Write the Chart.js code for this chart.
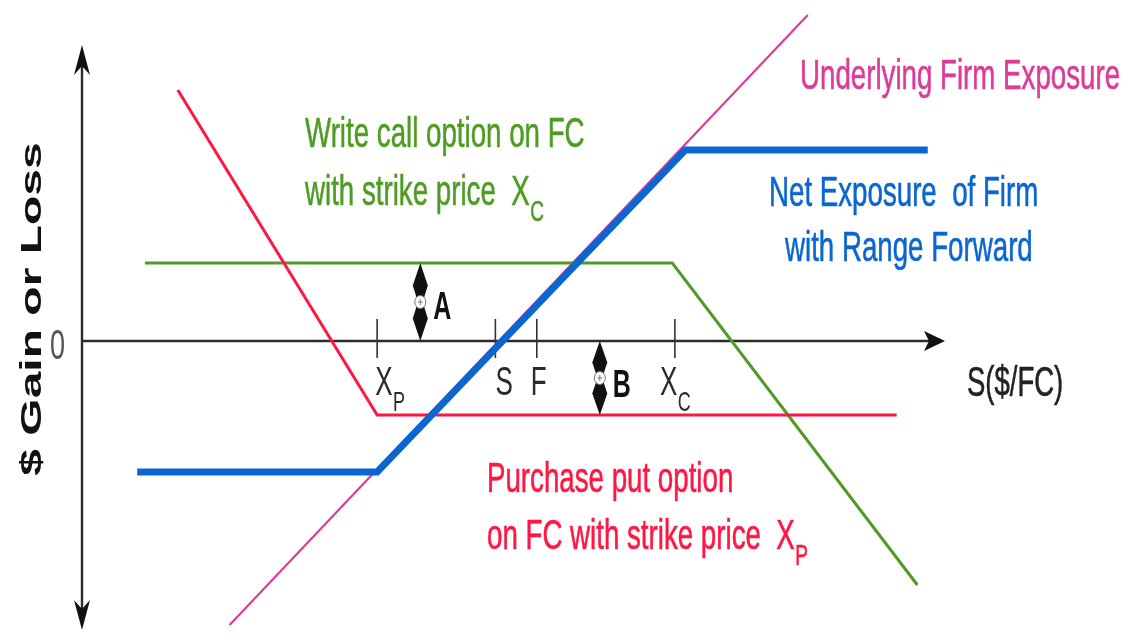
<!DOCTYPE html>
<html>
<head>
<meta charset="utf-8">
<script src="https://cdn.jsdelivr.net/npm/chart.js@4.4.0/dist/chart.umd.min.js"></script>
<style>
  html, body { margin: 0; padding: 0; background: #ffffff; }
  canvas { display: block; }
</style>
</head>
<body>
<canvas id="chart" width="1132" height="644"></canvas>
<script>
// Markers along the S($/FC) axis: put strike, spot, forward, call strike
const markerNames = ['X|P', 'S', 'F', 'X|C'];
const markerValues = [34.2, 47.9, 52.7, 68.7];

// Payoff profiles (S, $ gain or loss)
const underlyingX = [17.1, 84.1];
const underlyingY = [-28.4, 32.6];
const netX = [6.4, 34.2, 69.9, 98.0];
const netY = [-13.1, -13.1, 19.1, 19.1];
const putX = [11.1, 34.2, 94.4];
const putY = [25.1, -7.4, -7.4];
const callX = [7.3, 68.4, 96.8];
const callY = [7.8, 7.8, -24.4];

// Axis extents
const xAxisEnd = 100;
const yAxisTop = 29.6;
const yAxisBottom = -28.9;

// Gaps A (call premium received) and B (put premium paid)
const gapNames = ['A', 'B'];
const gapX = [39.2, 60.0];
const gapFrom = [7.8, 0];
const gapTo = [0, -7.4];

const zip = (xs, ys) => xs.map((v, i) => ({ x: v, y: ys[i] }));

const COLORS = {
  pink: '#dc3c98',
  blue: '#0a66d0',
  red: '#ff1744',
  green: '#4f9c24',
  axis: '#2b2b2b'
};

const STRETCH = 1.55;           // tall, narrow lettering
const FACE = '"Liberation Sans", Arial, sans-serif';
const CAPTION = 27.7;

function stretchedText(ctx, str, x, y, font, color, weightStroke) {
  ctx.save();
  ctx.translate(x, y);
  ctx.scale(1, STRETCH);
  ctx.font = font;
  ctx.fillStyle = color;
  ctx.textAlign = 'left';
  ctx.textBaseline = 'alphabetic';
  ctx.fillText(str, 0, 0);
  if (weightStroke) {
    ctx.strokeStyle = color;
    ctx.lineWidth = weightStroke;
    ctx.strokeText(str, 0, 0);
  }
  const w = ctx.measureText(str).width;
  ctx.restore();
  return w;
}

// text with an optional subscript written as "main|sub"
function labelWithSub(ctx, str, x, y, size, color, weightStroke) {
  const parts = str.split('|');
  const w = stretchedText(ctx, parts[0], x, y, size + 'px ' + FACE, color, weightStroke);
  if (parts[1]) {
    stretchedText(ctx, parts[1], x + w + 0.5, y + 10 * STRETCH,
      Math.round(size * 0.68) + 'px ' + FACE, color, weightStroke);
  }
}

function arrowHead(ctx, tx, ty, dx, dy, len, half, notch) {
  const px = -dy, py = dx;
  ctx.beginPath();
  ctx.moveTo(tx, ty);
  ctx.lineTo(tx - dx * len + px * half, ty - dy * len + py * half);
  ctx.lineTo(tx - dx * (len - notch), ty - dy * (len - notch));
  ctx.lineTo(tx - dx * len - px * half, ty - dy * len - py * half);
  ctx.closePath();
  ctx.fill();
}

function gapMarker(ctx, xp, ya, yb) {
  const top = Math.min(ya, yb), bot = Math.max(ya, yb);
  const mid = (top + bot) / 2;
  const half = mid - top;
  ctx.save();
  ctx.fillStyle = '#111';
  // upper head
  ctx.beginPath();
  ctx.moveTo(xp, top);
  ctx.lineTo(xp + 7.5, top + half * 0.58);
  ctx.lineTo(xp + 3, mid - 2);
  ctx.lineTo(xp - 3, mid - 2);
  ctx.lineTo(xp - 7.5, top + half * 0.58);
  ctx.closePath();
  ctx.fill();
  // lower head
  ctx.beginPath();
  ctx.moveTo(xp, bot);
  ctx.lineTo(xp + 7.5, bot - half * 0.58);
  ctx.lineTo(xp + 3, mid + 2);
  ctx.lineTo(xp - 3, mid + 2);
  ctx.lineTo(xp - 7.5, bot - half * 0.58);
  ctx.closePath();
  ctx.fill();
  // hub
  ctx.beginPath();
  ctx.ellipse(xp, mid, 5.5, 6.5, 0, 0, Math.PI * 2);
  ctx.fillStyle = '#ffffff';
  ctx.fill();
  ctx.strokeStyle = '#777';
  ctx.lineWidth = 1;
  ctx.stroke();
  ctx.beginPath();
  ctx.moveTo(xp - 2.5, mid); ctx.lineTo(xp + 2.5, mid);
  ctx.moveTo(xp, mid - 3); ctx.lineTo(xp, mid + 3);
  ctx.stroke();
  ctx.restore();
}

const axesPlugin = {
  id: 'axesPlugin',
  beforeDatasetsDraw(chart) {
    const { ctx, scales: { x, y } } = chart;
    const x0 = x.getPixelForValue(0);
    const y0 = y.getPixelForValue(0);
    const yT = y.getPixelForValue(yAxisTop);
    const yB = y.getPixelForValue(yAxisBottom);
    const xE = x.getPixelForValue(xAxisEnd);
    ctx.save();
    ctx.strokeStyle = COLORS.axis;
    ctx.fillStyle = '#111';
    ctx.lineWidth = 2.4;
    ctx.beginPath();
    ctx.moveTo(x0, yT + 12);
    ctx.lineTo(x0, yB - 12);
    ctx.moveTo(x0, y0);
    ctx.lineTo(xE - 8, y0);
    ctx.stroke();
    arrowHead(ctx, x0, yT, 0, -1, 30, 8, 9);
    arrowHead(ctx, x0, yB, 0, 1, 30, 8, 9);
    arrowHead(ctx, xE, y0, 1, 0, 21, 10, 5);
    // marker ticks
    ctx.lineWidth = 1.6;
    ctx.strokeStyle = '#333';
    markerValues.forEach(v => {
      const px = x.getPixelForValue(v);
      ctx.beginPath();
      ctx.moveTo(px, y.getPixelForValue(2.2));
      ctx.lineTo(px, y.getPixelForValue(-1.7));
      ctx.stroke();
    });
    ctx.restore();
  },
  afterDatasetsDraw(chart) {
    const { ctx, scales: { x, y } } = chart;
    const y0 = y.getPixelForValue(0);

    // marker labels below the axis
    const markerDx = [-2, 0, -6, -15];
    markerValues.forEach((v, i) => {
      labelWithSub(ctx, markerNames[i], x.getPixelForValue(v) + markerDx[i], y0 + 54, 26, '#2a2a2a');
    });

    // gaps A and B
    gapNames.forEach((name, i) => {
      const px = x.getPixelForValue(gapX[i]);
      gapMarker(ctx, px, y.getPixelForValue(gapFrom[i]), y.getPixelForValue(gapTo[i]));
      const base = y.getPixelForValue(gapFrom[i]) + (i === 0 ? 56 : 56);
      stretchedText(ctx, name, px + 13, base, 'bold 25px ' + FACE, '#111');
    });

    // origin and axis titles
    stretchedText(ctx, '0', 50, y0 + 18, '27px ' + FACE, '#555');
    stretchedText(ctx, 'S($/FC)', 967, 396, '27.5px ' + FACE, '#222', 0.4);

    ctx.save();
    ctx.translate(41, 309);
    ctx.rotate(-Math.PI / 2);
    ctx.scale(1.6, 1);
    ctx.font = 'bold 30px ' + FACE;
    ctx.fillStyle = '#111';
    ctx.textAlign = 'center';
    ctx.textBaseline = 'alphabetic';
    ctx.fillText('$ Gain or Loss', 0, 0);
    ctx.restore();

    // series captions
    const f = CAPTION + 'px ' + FACE;
    stretchedText(ctx, 'Underlying Firm Exposure', 800, 89, f, COLORS.pink, 0.4);
    stretchedText(ctx, 'Write call option on FC', 305, 147, f, COLORS.green, 0.4);
    labelWithSub(ctx, 'with strike price  X|C', 305, 205, CAPTION, COLORS.green, 0.4);
    stretchedText(ctx, 'Net Exposure  of Firm', 769, 206, f, COLORS.blue, 0.4);
    stretchedText(ctx, 'with Range Forward', 785, 261, f, COLORS.blue, 0.4);
    stretchedText(ctx, 'Purchase put option', 487, 492, f, COLORS.red, 0.4);
    labelWithSub(ctx, 'on FC with strike price  X|P', 487, 549, CAPTION, COLORS.red, 0.4);
  }
};

new Chart(document.getElementById('chart'), {
  type: 'line',
  data: {
    datasets: [
      { label: 'Net Exposure of Firm with Range Forward', data: zip(netX, netY),
        borderColor: COLORS.blue, borderWidth: 7, order: 0 },
      { label: 'Purchase put option on FC', data: zip(putX, putY),
        borderColor: COLORS.red, borderWidth: 3, order: 1 },
      { label: 'Write call option on FC', data: zip(callX, callY),
        borderColor: COLORS.green, borderWidth: 3, order: 2 },
      { label: 'Underlying Firm Exposure', data: zip(underlyingX, underlyingY),
        borderColor: COLORS.pink, borderWidth: 2.2, order: 3 }
    ]
  },
  options: {
    responsive: false,
    animation: false,
    devicePixelRatio: 1,
    layout: { padding: { left: 82, right: 187, top: 5, bottom: 9 } },
    elements: {
      point: { radius: 0, hoverRadius: 0 },
      line: { tension: 0, fill: false, borderCapStyle: 'butt', borderJoinStyle: 'miter' }
    },
    scales: {
      x: { type: 'linear', min: 0, max: 100, display: false },
      y: { type: 'linear', min: -29.4, max: 33.6, display: false }
    },
    plugins: { legend: { display: false }, tooltip: { enabled: false } }
  },
  plugins: [axesPlugin]
});
</script>
</body>
</html>
